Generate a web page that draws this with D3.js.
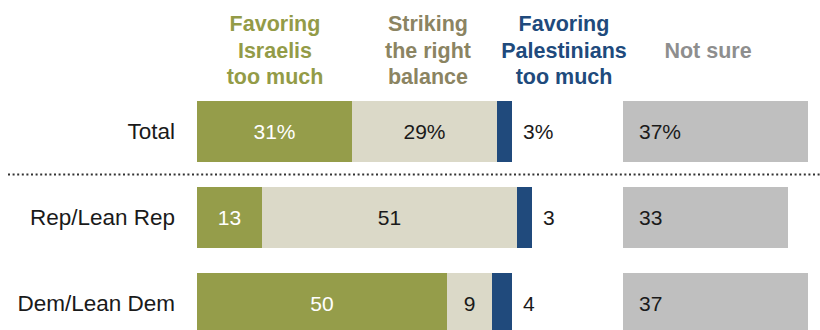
<!DOCTYPE html>
<html>
<head>
<meta charset="utf-8">
<script src="https://cdn.jsdelivr.net/npm/d3@7"></script>
<style>
  html, body { margin: 0; padding: 0; background: #fff; }
  svg { display: block; }
  text { font-family: "Liberation Sans", Arial, sans-serif; }
</style>
</head>
<body>
<svg id="chart" width="820" height="330"></svg>
<script>
// Survey groups and responses (percent)
const groups = ["Total", "Rep/Lean Rep", "Dem/Lean Dem"];
const favorIsraelis = [31, 13, 50];
const rightBalance = [29, 51, 9];
const favorPalestinians = [3, 3, 4];
const notSure = [37, 33, 37];

const headerFavorIsraelis = ["Favoring", "Israelis", "too much"];
const headerBalance = ["Striking", "the right", "balance"];
const headerFavorPalestinians = ["Favoring", "Palestinians", "too much"];
const headerNotSure = ["Not sure"];

const colors = {
  israelis: "#959d4a",
  balance: "#dbd9c8",
  palestinians: "#204a7c",
  notSure: "#bfbfbf",
  hdrIsraelis: "#939b47",
  hdrBalance: "#8b8462",
  hdrPalestinians: "#204a7c",
  hdrNotSure: "#8e8e8e"
};

const svg = d3.select("#chart");

// 5px per percentage point
const w = d3.scaleLinear().domain([0, 100]).range([0, 500]);
const barLeft = 197;
const notSureLeft = 623;

// Rows: 61px bars on an 86px step
const y = d3.scaleBand()
  .domain(groups)
  .range([101, 101 + 86 * 3])
  .paddingInner(25 / 86)
  .paddingOuter(0)
  .align(0);
const bandH = 61;

const rows = groups.map((g, i) => {
  const segs = [
    { key: "israelis", v: favorIsraelis[i] },
    { key: "balance", v: rightBalance[i] },
    { key: "palestinians", v: favorPalestinians[i] }
  ];
  let acc = 0;
  segs.forEach(s => { s.x0 = acc; acc += s.v; s.x1 = acc; });
  return { g, i, segs, ns: notSure[i], pct: i === 0 };
});

const rowG = svg.selectAll("g.row").data(rows).join("g")
  .attr("class", "row")
  .attr("transform", d => `translate(0,${101 + d.i * 86})`);

// Row labels
rowG.append("text")
  .attr("x", 175)
  .attr("y", bandH / 2 + 7.5)
  .attr("text-anchor", "end")
  .attr("font-size", 22.5)
  .attr("fill", "#1a1a1a")
  .text(d => d.g);

// Stacked segments
rowG.selectAll("rect.seg").data(d => d.segs).join("rect")
  .attr("class", "seg")
  .attr("x", s => barLeft + w(s.x0))
  .attr("width", s => w(s.v))
  .attr("y", 0)
  .attr("height", bandH)
  .attr("fill", s => colors[s.key]);

// Segment labels and the separate "not sure" bar
rowG.each(function (d) {
  const g = d3.select(this);
  const suffix = d.pct ? "%" : "";
  const [a, b, c] = d.segs;
  g.append("text")
    .attr("x", barLeft + w((a.x0 + a.x1) / 2))
    .attr("y", bandH / 2 + 7.5)
    .attr("text-anchor", "middle")
    .attr("font-size", 21)
    .attr("fill", "#ffffff")
    .text(a.v + suffix);
  g.append("text")
    .attr("x", barLeft + w((b.x0 + b.x1) / 2))
    .attr("y", bandH / 2 + 7.5)
    .attr("text-anchor", "middle")
    .attr("font-size", 21)
    .attr("fill", "#1a1a1a")
    .text(b.v + suffix);
  g.append("text")
    .attr("x", barLeft + w(c.x1) + 11)
    .attr("y", bandH / 2 + 7.5)
    .attr("text-anchor", "start")
    .attr("font-size", 21)
    .attr("fill", "#1a1a1a")
    .text(c.v + suffix);

  g.append("rect")
    .attr("x", notSureLeft)
    .attr("width", w(d.ns))
    .attr("y", 0)
    .attr("height", bandH)
    .attr("fill", colors.notSure);
  g.append("text")
    .attr("x", notSureLeft + 16)
    .attr("y", bandH / 2 + 7.5)
    .attr("text-anchor", "start")
    .attr("font-size", 21)
    .attr("fill", "#1a1a1a")
    .text(d.ns + suffix);
});

// Separator under the total row
svg.append("line")
  .attr("x1", 8).attr("x2", 820)
  .attr("y1", 174.5).attr("y2", 174.5)
  .attr("stroke", "#333")
  .attr("stroke-width", 2)
  .attr("stroke-dasharray", "2 2.6");

// Column headers
const headers = [
  { lines: headerFavorIsraelis, x: 275, color: colors.hdrIsraelis, start: 0 },
  { lines: headerBalance, x: 428, color: colors.hdrBalance, start: 0 },
  { lines: headerFavorPalestinians, x: 564, color: colors.hdrPalestinians, start: 0 },
  { lines: headerNotSure, x: 708, color: colors.hdrNotSure, start: 1 }
];
const baselines = [31, 58, 84];
headers.forEach(h => {
  svg.append("text")
    .attr("text-anchor", "middle")
    .attr("font-size", 21.5)
    .attr("font-weight", "bold")
    .attr("fill", h.color)
    .selectAll("tspan").data(h.lines).join("tspan")
    .attr("x", h.x)
    .attr("y", (l, i) => baselines[i + h.start])
    .text(l => l);
});
</script>
</body>
</html>
